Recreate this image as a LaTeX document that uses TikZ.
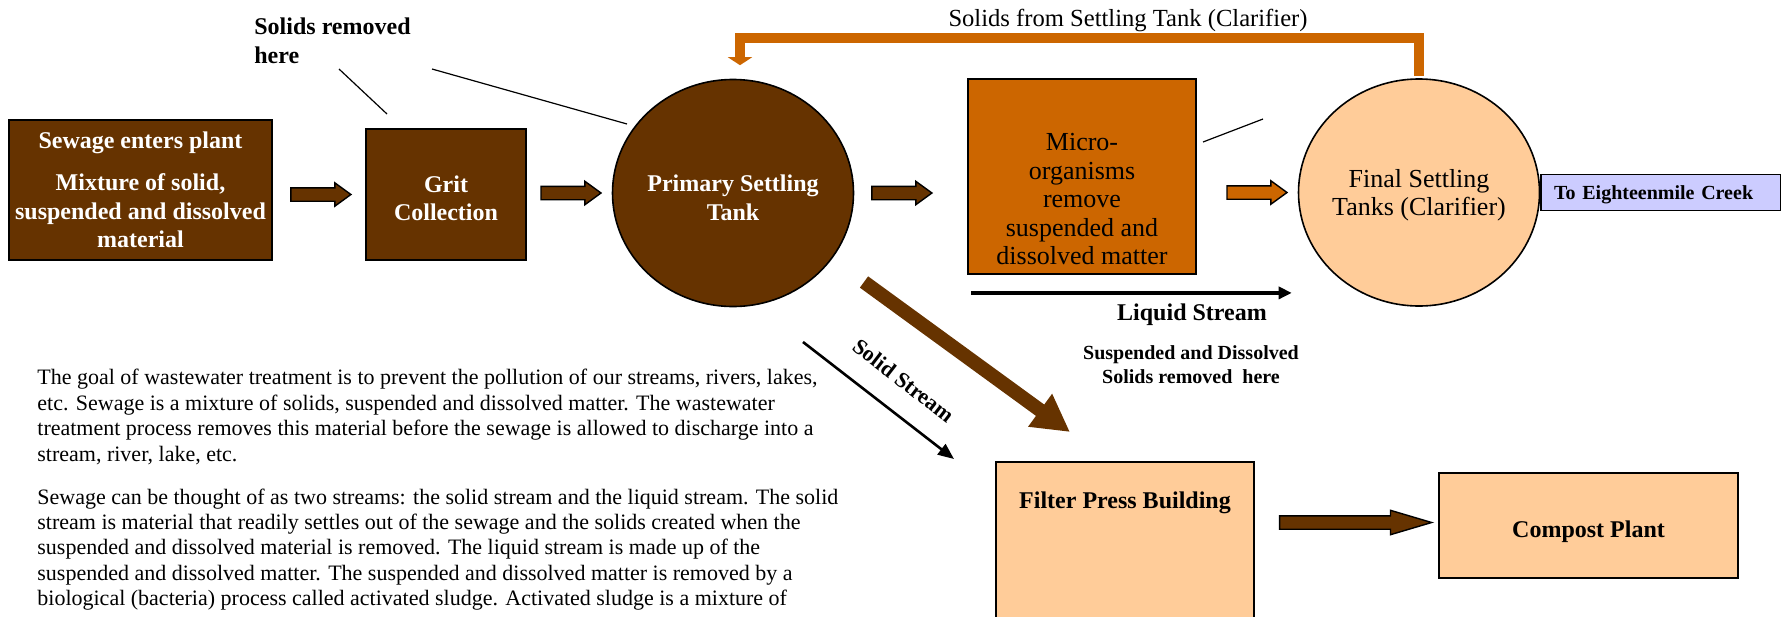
\documentclass[tikz,border=0pt]{standalone}
\usepackage{fontspec}
\setmainfont{Liberation Serif}
\definecolor{SludgeBrown}{RGB}{102, 51, 0}
\definecolor{RustOrange}{RGB}{204, 102, 0}
\definecolor{Peach}{RGB}{255, 204, 153}
\definecolor{Lavender}{RGB}{204, 204, 255}
\usetikzlibrary{arrows.meta, positioning, shapes, calc}

\begin{document}
\begin{tikzpicture}[x=0.5pt, y=-0.5pt,
  box/.style={draw, line width=0.9pt, inner sep=0pt, align=center},
  tank/.style={ellipse, draw, line width=0.8pt, inner sep=0pt, minimum width=120.5pt, minimum height=113.5pt},
  boldlbl/.style={align=center, inner sep=0pt, font=\bfseries\fontsize{12}{14.25}\selectfont},
  plainlbl/.style={align=center, inner sep=0pt, font=\fontsize{13}{14.25}\selectfont},
  smalllbl/.style={align=center, inner sep=0pt, font=\bfseries\fontsize{10}{12}\selectfont},
  fatarrow/.style={single arrow, draw, line width=0.7pt, fill=SludgeBrown, inner sep=3pt, single arrow head extend=2.5pt, single arrow tip angle=72, minimum height=30pt},
  pointer/.style={line width=0.6pt}]
\clip (0,0) rectangle (1781,616);

% process units
\node[box, boldlbl, text=white, fill=SludgeBrown, minimum width=131.5pt, minimum height=70pt] (sewage) at (140.5,190) {Sewage enters plant\\[6.75pt] Mixture of solid,\\ suspended and dissolved\\ material};
\node[box, fill=SludgeBrown, minimum width=80pt, minimum height=65.5pt] (grit) at (446,194.5) {};
\node[boldlbl, text=white] (gritlbl) at ([yshift=-2pt]grit.center) {Grit\\ Collection};
\node[tank, fill=SludgeBrown] (primary) at (733,193) {};
\node[boldlbl, text=white] (primarylbl) at ([yshift=-2.5pt]primary.center) {Primary Settling\\ Tank};
\node[box, fill=RustOrange, minimum width=114pt, minimum height=97.5pt] (micro) at (1082,176.5) {};
\node[plainlbl] (microlbl) at ([yshift=-11.3pt]micro.center) {Micro-\\ organisms\\ remove\\ suspended and\\ dissolved matter};
\node[tank, fill=Peach] (final) at (1419,192.5) {};
\node[plainlbl, font=\fontsize{13}{14}\selectfont] (finallbl) at ([yshift=-1.25pt]final.center) {Final Settling\\ Tanks (Clarifier)};
\node[box, fill=Lavender, anchor=west, minimum height=18pt, inner xsep=6.5pt, text width=107pt, align=left, text depth=0pt, font=\bfseries\fontsize{10}{12}\selectfont] (creek) at (final.east) {To Eighteenmile Creek};
\node[box, fill=Peach, minimum width=129pt, minimum height=150pt] (filter) at (1125,612) {};
\node[boldlbl, anchor=base] (filterlbl) at ([yshift=-23.5pt]filter.north) {Filter Press Building};
\node[box, boldlbl, fill=Peach, minimum width=149.5pt, minimum height=52.5pt, text height=12pt, text depth=0pt] (compost) at (1588.5,525.5) {Compost Plant};

% flow arrows
\node[fatarrow, anchor=tip] (a1) at ($(grit.west)+(-13,0)$) {};
\node[fatarrow, anchor=tip] (a2) at ($(primary.west)+(-9.5,0)$) {};
\node[fatarrow, anchor=tip] (a3) at ($(micro.west |- primary.east)+(-34,0)$) {};
\node[fatarrow, anchor=tip, fill=RustOrange] (a4) at ($(final.west)+(-9.5,0)$) {};
\node[fatarrow, anchor=tip, minimum height=76pt, single arrow tip angle=33, single arrow head extend=2.75pt] (a5) at ($(compost.west)+(-4,-3)$) {};

\draw[RustOrange, line width=5pt, line join=miter, -{Triangle[width=12pt, length=4pt]}] ($(final.north)+(0,-2)$) |- ($(primary.north)+(7,-40.5)$) -- ($(primary.north)+(7,-13.5)$);
\node[anchor=base, inner sep=0pt, font=\fontsize{12.3}{14}\selectfont] (returnlbl) at (1128,26) {Solids from Settling Tank (Clarifier)};

\coordinate (sludgefrom) at (864,282);
\coordinate (sludgeto) at (1070,432);
\draw[SludgeBrown, line width=7pt, -{Triangle[width=19pt, length=18.5pt]}] (sludgefrom) -- (sludgeto);

\coordinate (solidfrom) at (803,342);
\coordinate (solidto) at (954,459);
\draw[line width=1.3pt, -{Triangle[width=6.5pt, length=8pt]}] (solidfrom) -- node[sloped, pos=0.54, above=11pt, inner sep=0pt, font=\bfseries\fontsize{11}{13}\selectfont] (solidlbl) {Solid Stream} (solidto);

\draw[line width=1.6pt, -{Triangle[width=6pt, length=6.5pt]}] ($(micro.south west)+(4,18)$) -- ($(final.west |- micro.south)+(-6,18)$);
\node[boldlbl, anchor=base] (liquidlbl) at (1192,320) {Liquid Stream};
\node[smalllbl, anchor=base] (removedlbl) at (1191,383) {Suspended and Dissolved\\ Solids removed\ \ here};

% where solids come out
\node[boldlbl, anchor=base west, align=left, font=\bfseries\fontsize{12}{14.5}\selectfont] (solidstag) at (254,63) {Solids removed\\ here};
\coordinate (gritptr) at (387,114);
\coordinate (primaryptr) at (627,124);
\coordinate (microptr) at (1203,142);
\draw[pointer] (339,69) -- (gritptr);
\draw[pointer] (432,69) -- (primaryptr);
\draw[pointer] (1263,119) -- (microptr);

\node[anchor=base west, align=left, inner sep=0pt, font=\fontsize{11}{12.7}\selectfont] (goal) at (37,605.6) {The goal of wastewater treatment is to prevent the pollution of our streams, rivers, lakes,\\ etc.  Sewage is a mixture of solids, suspended and dissolved matter.  The wastewater\\ treatment process removes this material before the sewage is allowed to discharge into a\\ stream, river, lake, etc.\\[8.8pt] Sewage can be thought of as two streams: the solid stream and the liquid stream.  The solid\\ stream is material that readily settles out of the sewage and the solids created when the\\ suspended and dissolved material is removed. The liquid stream is made up of the\\ suspended and dissolved matter.  The suspended and dissolved matter is removed by a\\ biological (bacteria) process called activated sludge.  Activated sludge is a mixture of};
\end{tikzpicture}
\end{document}
